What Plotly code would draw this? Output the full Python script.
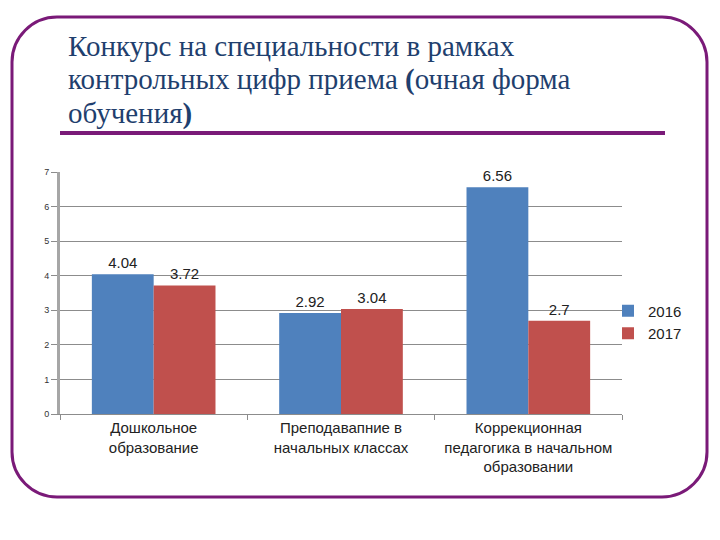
import plotly.graph_objects as go

categories = ["Дошкольное<br>образование", "Преподавапние в<br>начальных классах",
              "Коррекционная<br>педагогика в начальном<br>образовании"]
series_names = ["2016", "2017"]
values_2016 = [4.04, 2.92, 6.56]
values_2017 = [3.72, 3.04, 2.7]
title_lines = ["Конкурс на специальности в рамках",
               "контрольных цифр приема <b>(</b>очная форма",
               "обучения<b>)</b>"]

W, H = 720, 540
L, R, T, B = 60, 622, 172, 414

def px(x):
    return (x - L) / (R - L)

def py(y):
    return (B - y) / (B - T)

fig = go.Figure()
fig.add_trace(go.Bar(x=categories, y=values_2016, name=series_names[0],
                     marker=dict(color="#4F81BD", line=dict(width=0)),
                     text=[f"{v:g}" for v in values_2016], textposition="outside",
                     textfont=dict(family="Liberation Sans", size=15, color="#222"),
                     cliponaxis=False))
fig.add_trace(go.Bar(x=categories, y=values_2017, name=series_names[1],
                     marker=dict(color="#C0504D", line=dict(width=0)),
                     text=[f"{v:g}" for v in values_2017], textposition="outside",
                     textfont=dict(family="Liberation Sans", size=15, color="#222"),
                     cliponaxis=False))

# rounded frame
x0, x1, y0, y1, r = 12, 707, 17, 497, 45
def P(x, y):
    return f"{px(x)},{py(y)}"
k = 0.45
path = (f"M {P(x0 + r, y0)} L {P(x1 - r, y0)} "
        f"C {P(x1 - r * k, y0)} {P(x1, y0 + r * k)} {P(x1, y0 + r)} "
        f"L {P(x1, y1 - r)} "
        f"C {P(x1, y1 - r * k)} {P(x1 - r * k, y1)} {P(x1 - r, y1)} "
        f"L {P(x0 + r, y1)} "
        f"C {P(x0 + r * k, y1)} {P(x0, y1 - r * k)} {P(x0, y1 - r)} "
        f"L {P(x0, y0 + r)} "
        f"C {P(x0, y0 + r * k)} {P(x0 + r * k, y0)} {P(x0 + r, y0)} Z")
shapes = [
    dict(type="path", xref="paper", yref="paper", path=path,
         line=dict(color="#7A1A78", width=3), layer="below"),
    dict(type="line", xref="paper", yref="paper", x0=px(60), x1=px(665),
         y0=py(133), y1=py(133), line=dict(color="#7A1A78", width=4)),
]

annotations = []
for i, t in enumerate(title_lines):
    annotations.append(dict(text=t, xref="paper", yref="paper", x=px(66), y=py(46 + 34 * i),
                            xanchor="left", yanchor="middle", showarrow=False,
                            font=dict(family="Liberation Serif, Times New Roman, serif",
                                      size=29, color="#1F3F6E")))

fig.update_layout(
    width=W, height=H,
    margin=dict(l=L, r=W - R, t=T, b=H - B, pad=0),
    paper_bgcolor="white", plot_bgcolor="white",
    barmode="group", bargap=0.34, bargroupgap=0,
    showlegend=True,
    legend=dict(x=px(608), y=py(322), xanchor="left", yanchor="middle",
                font=dict(family="Liberation Sans", size=15, color="#222"),
                itemwidth=30, tracegroupgap=0, bgcolor="rgba(0,0,0,0)"),
    shapes=shapes, annotations=annotations,
    xaxis=dict(showline=True, linecolor="#8C8C8C", linewidth=1,
               ticks="outside", tickson="boundaries", ticklen=5, tickcolor="#8C8C8C",
               tickangle=0, automargin=False,
               tickfont=dict(family="Liberation Sans", size=15, color="#222"),
               showgrid=False),
    yaxis=dict(range=[0, 7], dtick=1, showline=True, linecolor="#A6A6A6", linewidth=3,
               ticks="outside", ticklen=6, tickcolor="#8C8C8C", automargin=False,
               tickfont=dict(family="Liberation Sans", size=9, color="#333"),
               showgrid=True, gridcolor="#8C8C8C", gridwidth=1, zeroline=False),
)

fig.write_html("out.html", config={"displayModeBar": False},
               post_script="document.body.style.margin='0';document.body.style.overflow='hidden';")
